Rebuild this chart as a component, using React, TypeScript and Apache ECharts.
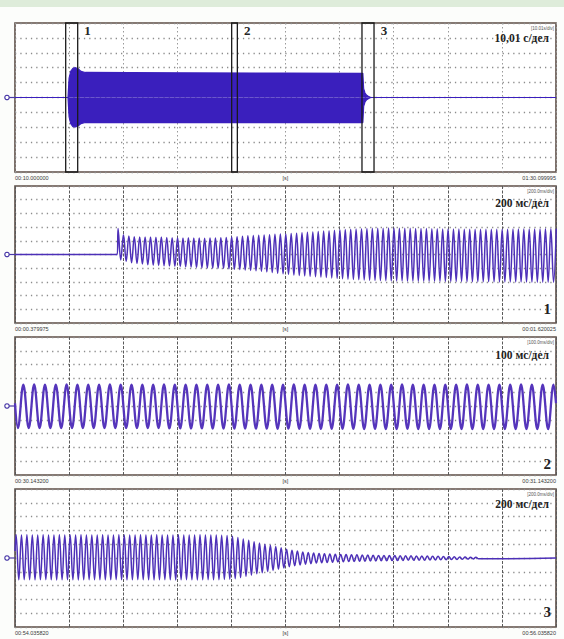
import { useEffect, useRef } from "react";
import * as echarts from "echarts";

// ---- Overview record (10,01 с/дел): envelope of the oscillation, seconds from window start, divisions ----
const overviewTime = [0, 9.81, 10.01, 10.31, 10.71, 11.21, 11.71, 12.21, 13.01, 30.0, 50.0, 64.36, 64.51, 64.76, 65.07, 65.37, 65.77, 100.1];
const overviewUpper = [0, 0, 1.3, 1.75, 1.95, 2.0, 1.92, 1.75, 1.68, 1.66, 1.64, 1.62, 0.6, 0.3, 0.15, 0.08, 0, 0];
const overviewLower = [0, 0, -1.3, -1.75, -1.95, -1.98, -1.9, -1.75, -1.68, -1.68, -1.68, -1.68, -0.6, -0.3, -0.15, -0.08, 0, 0];

// Zoom windows marked on the overview (seconds)
const markerNames = ["1", "2", "3"];
const markerFrom = [9.38, 40.09, 64.2];
const markerTo = [11.6, 41.14, 66.43];

// Half period of the 50 Hz signal, ms
const halfPeriodMs = 10;

// ---- Window 1 (200 мс/дел): switching on, per-cycle extremes in divisions ----
const onsetFlatUntil = 378;
const onsetFirstPeak = 381;
const onsetPeaks = [
  1.9, 1.45, 1.35, 1.3, 1.28, 1.27, 1.28, 1.26, 1.27,
  1.24, 1.22, 1.23, 1.21, 1.22, 1.2,
  1.2, 1.19, 1.2, 1.21, 1.22, 1.24,
  1.27, 1.3, 1.33, 1.36, 1.38, 1.41,
  1.43, 1.45, 1.47, 1.49, 1.5,
  1.53, 1.56, 1.59, 1.62, 1.65, 1.68, 1.71, 1.74, 1.77, 1.8,
  1.82, 1.84, 1.86, 1.88, 1.9, 1.91, 1.92, 1.92, 1.93, 1.93,
  1.92, 1.92, 1.91, 1.9, 1.9, 1.89, 1.88, 1.88, 1.87, 1.87,
  1.86, 1.86, 1.85, 1.85, 1.85, 1.84, 1.84, 1.84, 1.85, 1.85,
  1.85, 1.86, 1.86, 1.86, 1.87, 1.87, 1.87, 1.88, 1.88, 1.88,
];
const onsetTroughs = [
  -0.4, -0.5, -0.6, -0.65, -0.7, -0.75,
  -0.78, -0.8, -0.82, -0.84, -0.86, -0.88, -0.9, -0.92, -0.95,
  -0.97, -0.98, -1.0, -1.0, -1.02, -1.04,
  -1.07, -1.1, -1.13, -1.16, -1.19, -1.22,
  -1.27, -1.32, -1.37, -1.41, -1.45,
  -1.5, -1.53, -1.56, -1.59, -1.62, -1.65, -1.68, -1.71, -1.74, -1.77,
  -1.8, -1.82, -1.84, -1.86, -1.88, -1.89, -1.9, -1.91, -1.92, -1.93,
  -1.93, -1.94, -1.94, -1.95, -1.95, -1.95, -1.96, -1.96, -1.96, -1.97,
  -1.97, -1.97, -1.98, -1.98, -1.98, -1.99, -1.99, -1.99, -2.0, -2.0,
  -2.0, -2.0, -2.01, -2.01, -2.01, -2.02, -2.02, -2.02, -2.02,
];

// ---- Window 2 (100 мс/дел): steady state ----
const steadyStartValue = 0.2;
const steadyEndValue = 0.2;
const steadyFirstTrough = 5.4;
const steadyTroughs = [
  -1.6, -1.6, -1.61, -1.6, -1.6, -1.61, -1.6, -1.6, -1.61, -1.6,
  -1.61, -1.6, -1.61, -1.6, -1.62, -1.62, -1.63, -1.62, -1.63, -1.63,
  -1.64, -1.63, -1.64, -1.64, -1.65, -1.64, -1.65, -1.65, -1.66, -1.65,
  -1.66, -1.66, -1.67, -1.66, -1.67, -1.67, -1.66, -1.67, -1.67, -1.68,
  -1.67, -1.68, -1.67, -1.68, -1.68, -1.67, -1.68, -1.68, -1.67, -1.68,
];
const steadyPeaks = [
  1.55, 1.56, 1.55, 1.55, 1.56, 1.55, 1.54, 1.55, 1.56, 1.55,
  1.55, 1.54, 1.55, 1.56, 1.55, 1.55, 1.54, 1.55, 1.55, 1.56,
  1.55, 1.55, 1.54, 1.55, 1.55, 1.56, 1.55, 1.54, 1.55, 1.55,
  1.56, 1.55, 1.55, 1.54, 1.55, 1.56, 1.55, 1.55, 1.54, 1.55,
  1.55, 1.56, 1.55, 1.54, 1.55, 1.55, 1.56, 1.55, 1.55, 1.54,
];

// ---- Window 3 (200 мс/дел): switching off ----
const decayStartValue = 0.5;
const decayEndValue = 0;
const decayFirstPeak = 4;
const decayPeaks = [
  1.68, 1.67, 1.68, 1.66, 1.67, 1.68, 1.67, 1.66, 1.68, 1.67,
  1.66, 1.67, 1.68, 1.67, 1.66, 1.67, 1.68, 1.66, 1.67, 1.68,
  1.67, 1.66, 1.67, 1.68, 1.67, 1.66, 1.68, 1.67, 1.66, 1.67,
  1.68, 1.67, 1.66, 1.67, 1.68, 1.66, 1.67, 1.66, 1.65, 1.63,
  1.58, 1.48, 1.38, 1.28, 1.18, 1.08, 1.0, 0.92, 0.84, 0.74,
  0.64, 0.56, 0.5, 0.44, 0.4, 0.36, 0.33, 0.31, 0.29, 0.27,
  0.26, 0.25, 0.24, 0.23, 0.22, 0.21, 0.2, 0.19, 0.19, 0.18,
  0.18, 0.17, 0.16, 0.16, 0.15, 0.15, 0.14, 0.13, 0.12, 0.11,
  0.1, 0.09, 0.08, 0.07, 0.06, 0.05,
];
const decayTroughs = [
  -1.58, -1.57, -1.58, -1.59, -1.58, -1.57, -1.58, -1.59, -1.58, -1.57,
  -1.58, -1.59, -1.58, -1.57, -1.58, -1.58, -1.59, -1.58, -1.57, -1.58,
  -1.59, -1.58, -1.57, -1.58, -1.58, -1.59, -1.58, -1.57, -1.58, -1.59,
  -1.58, -1.57, -1.58, -1.59, -1.58, -1.57, -1.58, -1.57, -1.56, -1.54,
  -1.5, -1.42, -1.33, -1.24, -1.15, -1.06, -0.98, -0.9, -0.82, -0.73,
  -0.64, -0.56, -0.5, -0.45, -0.41, -0.37, -0.34, -0.32, -0.3, -0.28,
  -0.27, -0.26, -0.25, -0.24, -0.23, -0.22, -0.21, -0.2, -0.2, -0.19,
  -0.19, -0.18, -0.17, -0.17, -0.16, -0.16, -0.15, -0.14, -0.13, -0.12,
  -0.11, -0.1, -0.09, -0.08, -0.07, -0.06,
];

// ---- Axis captions ----
const startLabels = ["00:10.000000", "00:00.379975", "00:30.143200", "00:54.035820"];
const endLabels = ["01:30.099995", "00:01.620025", "00:31.143200", "00:56.035820"];
const unitLabel = "[s]";
const scaleLabels = ["10,01 с/дел", "200 мс/дел", "100 мс/дел", "200 мс/дел"];
const scaleTags = ["[10.01s/div]", "[200.0ms/div]", "[100.0ms/div]", "[200.0ms/div]"];
const panelNumbers = ["", "1", "2", "3"];
const divisionSize = [10.01, 200, 100, 200];

// Layout of the four oscillogram frames (px)
const FRAME_LEFT = 15;
const FRAME_WIDTH = 541;
const frames = [
  { top: 23, height: 149, scaleDy: 15, numDy: 0 },
  { top: 186, height: 137, scaleDy: 17, numDy: -9 },
  { top: 337, height: 138, scaleDy: 18, numDy: -6 },
  { top: 489, height: 138, scaleDy: 15, numDy: -10 },
];

const TRACE = "#4d30b8";
const BAND = "#3a1fbd";

function alternate(first: number, step: number, a: number[], b: number[]): number[][] {
  const pts: number[][] = [];
  const n = Math.max(a.length, b.length);
  for (let i = 0; i < n; i++) {
    if (i < a.length) pts.push([first + step * 2 * i, a[i]]);
    if (i < b.length) pts.push([first + step * (2 * i + 1), b[i]]);
  }
  return pts;
}

export default function App() {
  const ref = useRef<HTMLDivElement>(null);

  useEffect(() => {
    if (!ref.current) return;
    const chart = echarts.init(ref.current, undefined, { renderer: "svg" });

    const onsetData = [[0, 0], [onsetFlatUntil, 0], ...alternate(onsetFirstPeak, halfPeriodMs, onsetPeaks, onsetTroughs)];
    const steadyData = [[0, steadyStartValue], ...alternate(steadyFirstTrough, halfPeriodMs, steadyTroughs, steadyPeaks), [1000, steadyEndValue]];
    const decayData = [[0, decayStartValue], ...alternate(decayFirstPeak, halfPeriodMs, decayPeaks, decayTroughs), [2000, decayEndValue]];

    const grids = frames.map((f) => ({
      left: FRAME_LEFT,
      width: FRAME_WIDTH,
      top: f.top,
      height: f.height,
      show: true,
      backgroundColor: "#ffffff",
      borderColor: "#5d4e46",
      borderWidth: 1.6,
      z: 0,
    }));

    const xAxes = frames.map((_, i) => ({
      type: "value",
      gridIndex: i,
      min: 0,
      max: divisionSize[i] * 10,
      interval: divisionSize[i],
      axisLine: { show: false },
      axisTick: { show: false },
      axisLabel: { show: false },
      splitLine: {
        show: true,
        lineStyle:
          i === 0
            ? { color: "#9a9a9a", type: [1.5, 2.5], width: 1 }
            : { color: "#5a5a5a", type: [3, 1.5], width: 1 },
      },
    }));

    const yAxes = frames.map((_, i) => ({
      type: "value",
      gridIndex: i,
      min: -5,
      max: 5,
      interval: 1,
      axisLine: { show: false },
      axisTick: { show: false },
      axisLabel: { show: false },
      splitLine: { show: true, lineStyle: { color: "#8c8c8c", type: [1.3, 4], width: 1.3 } },
    }));

    const overviewUp = overviewTime.map((t, k) => [t, overviewUpper[k]]);
    const overviewLow = overviewTime.map((t, k) => [t, overviewLower[k]]);

    const series: any[] = [
      {
        type: "line",
        xAxisIndex: 0,
        yAxisIndex: 0,
        data: overviewUp,
        symbol: "none",
        lineStyle: { color: BAND, width: 1.2 },
        areaStyle: { color: BAND, opacity: 1, origin: "auto" },
        silent: true,
        z: 2,
      },
      {
        type: "line",
        xAxisIndex: 0,
        yAxisIndex: 0,
        data: overviewLow,
        symbol: "none",
        lineStyle: { color: BAND, width: 1.2 },
        areaStyle: { color: BAND, opacity: 1, origin: "auto" },
        silent: true,
        z: 2,
      },
      {
        type: "line",
        xAxisIndex: 0,
        yAxisIndex: 0,
        data: [],
        symbol: "none",
        silent: true,
        z: 10,
        markArea: {
          silent: true,
          z: 10,
          itemStyle: { color: "rgba(0,0,0,0)", borderColor: "#1b1b1b", borderWidth: 1.3 },
          label: {
            show: true,
            position: ["100%", 0],
            offset: [6, 2],
            fontFamily: "Liberation Serif",
            fontWeight: "bold",
            fontSize: 13,
            color: "#262626",
          },
          data: markerNames.map((name, k) => [
            { name, xAxis: markerFrom[k] },
            { xAxis: markerTo[k] },
          ]),
        },
      },
      {
        type: "line",
        xAxisIndex: 1,
        yAxisIndex: 1,
        data: onsetData,
        symbol: "none",
        smooth: 0.4,
        lineStyle: { color: TRACE, width: 1.5 },
        silent: true,
        z: 2,
      },
      {
        type: "line",
        xAxisIndex: 2,
        yAxisIndex: 2,
        data: steadyData,
        symbol: "none",
        smooth: 0.38,
        lineStyle: { color: "#5535bb", width: 2.3 },
        silent: true,
        z: 2,
      },
      {
        type: "line",
        xAxisIndex: 3,
        yAxisIndex: 3,
        data: decayData,
        symbol: "none",
        smooth: 0.4,
        lineStyle: { color: TRACE, width: 1.5 },
        silent: true,
        z: 2,
      },
    ];

    const graphic: any[] = [
      { type: "rect", shape: { x: 0, y: 0, width: 564, height: 7 }, style: { fill: "#deecda" }, silent: true, z: -10 },
    ];

    frames.forEach((f, i) => {
      const bottom = f.top + f.height;
      const cy = f.top + f.height / 2;
      const small = { fontFamily: "Liberation Sans", fontSize: 5.5, fill: "#3a3a3a" };
      graphic.push(
        { type: "text", x: FRAME_LEFT, y: bottom + 6, style: { ...small, text: startLabels[i], align: "left", verticalAlign: "middle" }, silent: true },
        { type: "text", x: FRAME_LEFT + FRAME_WIDTH / 2, y: bottom + 6, style: { ...small, text: unitLabel, align: "center", verticalAlign: "middle" }, silent: true },
        { type: "text", x: FRAME_LEFT + FRAME_WIDTH, y: bottom + 6, style: { ...small, text: endLabels[i], align: "right", verticalAlign: "middle" }, silent: true },
        {
          type: "text",
          x: 549,
          y: f.top + f.scaleDy,
          z: 20,
          style: { text: scaleLabels[i], fontFamily: "Liberation Serif", fontWeight: "bold", fontSize: 11.5, fill: "#222", align: "right", verticalAlign: "middle" },
          silent: true,
        },
        {
          type: "text",
          x: 554,
          y: f.top + 5,
          z: 20,
          style: { text: scaleTags[i], fontFamily: "Liberation Sans", fontSize: 4.5, fill: "#555", align: "right", verticalAlign: "middle" },
          silent: true,
        },
        { type: "line", shape: { x1: 9, y1: cy, x2: FRAME_LEFT, y2: cy }, style: { stroke: "#4a3aa8", lineWidth: 1.2 }, silent: true, z: 20 },
        { type: "circle", shape: { cx: 7, cy, r: 2.2 }, style: { fill: "#ffffff", stroke: "#4a3aa8", lineWidth: 1.2 }, silent: true, z: 20 }
      );
      if (panelNumbers[i]) {
        graphic.push({
          type: "text",
          x: 551,
          y: bottom + f.numDy - 5,
          z: 20,
          style: { text: panelNumbers[i], fontFamily: "Liberation Serif", fontWeight: "bold", fontSize: 15, fill: "#222", align: "right", verticalAlign: "middle" },
          silent: true,
        });
      }
    });

    chart.setOption({
      animation: false,
      backgroundColor: "#fcfdfb",
      grid: grids,
      xAxis: xAxes,
      yAxis: yAxes,
      series,
      graphic,
    });

    return () => chart.dispose();
  }, []);

  return <div ref={ref} style={{ position: "fixed", left: 0, top: 0, width: 564, height: 639 }} />;
}
